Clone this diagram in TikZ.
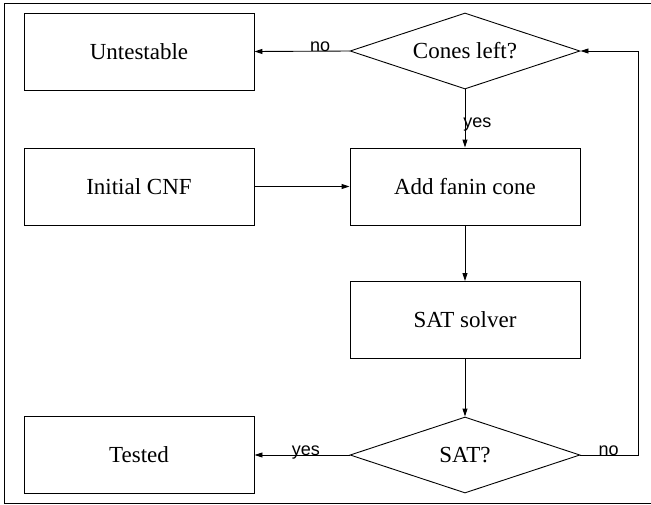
\documentclass[tikz,border=0pt]{standalone}
\usepackage{fontspec}
\setmainfont{Liberation Serif}
\newfontfamily\labfont{Liberation Sans}
\usetikzlibrary{shapes.geometric,arrows.meta}
\begin{document}
\begin{tikzpicture}[x=1pt,y=-1pt,
  every path/.style={line width=0.9pt},
  box/.style={draw, rectangle, minimum width=230pt, minimum height=77pt, inner sep=0pt, font=\fontsize{23}{27}\selectfont},
  dec/.style={draw, diamond, aspect=3, minimum width=230pt, minimum height=76pt, inner sep=0pt, font=\fontsize{23}{27}\selectfont},
  arr/.style={-{Triangle[length=8pt,width=5pt]}},
  lbl/.style={font=\labfont\fontsize{18}{20}\selectfont, inner sep=0pt}]
\useasboundingbox (0,0) rectangle (651,504);
\draw (655,3) -- (4,3) -- (4,503) -- (655,503);
\node[box] (untest) at (139,51.5) {Untestable};
\node[dec] (cones) at (465,51) {Cones left?};
\node[box] (cnf) at (139,186.5) {Initial CNF};
\node[box] (fanin) at (465,186.5) {Add fanin cone};
\node[box] (solver) at (465,320) {SAT solver};
\node[dec] (sat) at (465,455) {SAT?};
\node[box] (tested) at (139,455) {Tested};
\coordinate (fb) at (638,455);
\draw[arr] (cones.west) -- node[lbl, pos=0.31, anchor=base] {no} (untest.east);
\draw[arr] (cones.south) -- node[lbl, pos=0.66, anchor=base west, xshift=-2pt] {yes} (fanin.north);
\draw[arr] (cnf.east) -- (fanin.west);
\draw[arr] (fanin.south) -- (solver.north);
\draw[arr] (solver.south) -- (sat.north);
\draw[arr] (sat.west) -- node[lbl, pos=0.46, anchor=base] {yes} (tested.east);
\draw[arr] (sat.east) -- node[lbl, pos=0.49, anchor=base] {no} (fb) |- (cones.east);
\end{tikzpicture}
\end{document}
